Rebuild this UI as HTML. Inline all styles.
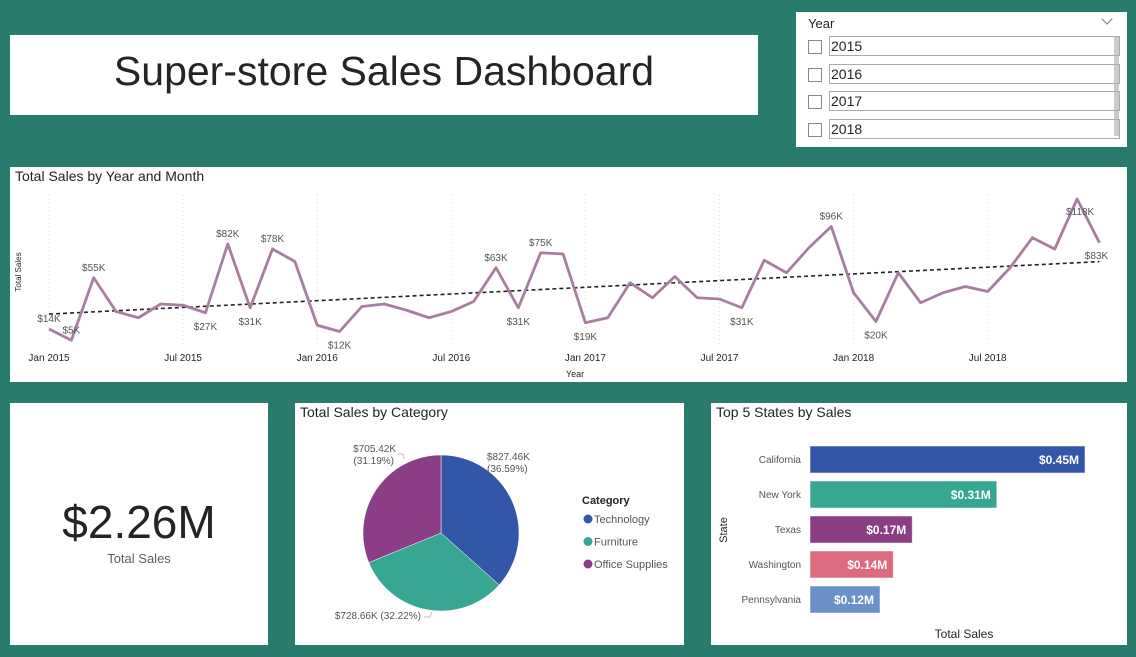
<!DOCTYPE html>
<html><head><meta charset="utf-8">
<style>
body{margin:0;width:1136px;height:657px;background:#287b6d;font-family:"Liberation Sans",sans-serif;position:relative;overflow:hidden}
.p{position:absolute;background:#fff}
.t{position:absolute;font-size:14px;color:#252423}
svg text{font-family:"Liberation Sans",sans-serif}
</style></head><body>
<div class="p" style="left:10px;top:35px;width:748px;height:80px">
 <div style="position:absolute;left:0;right:0;top:13px;text-align:center;font-size:41px;color:#252423">Super-store Sales Dashboard</div>
</div>
<div class="p" style="left:796px;top:12px;width:331px;height:135px">
 <div style="position:absolute;left:12px;top:4px;font-size:13px;color:#252423">Year</div>
 <div style="position:absolute;right:16px;top:3px;width:7px;height:7px;border-right:1px solid #777;border-bottom:1px solid #777;transform:rotate(45deg)"></div>
 <div style="position:absolute;left:318px;top:24px;width:5px;height:100px;background:#ccc"></div>
 <div id="slicerItems"></div>
</div>
<div class="p" style="left:10px;top:167px;width:1117px;height:215px">
 <div class="t" style="left:5px;top:1px">Total Sales by Year and Month</div>
</div>
<svg id="lineSvg" width="1136" height="657" style="position:absolute;left:0;top:0;pointer-events:none"></svg>
<div class="p" style="left:10px;top:403px;width:258px;height:242px">
 <div style="position:absolute;left:0;right:0;top:92px;text-align:center;font-size:46px;color:#252423">$2.26M</div>
 <div style="position:absolute;left:0;right:0;top:148px;text-align:center;font-size:13px;color:#605e5c">Total Sales</div>
</div>
<div class="p" style="left:295px;top:403px;width:389px;height:242px">
 <div class="t" style="left:5px;top:1px">Total Sales by Category</div>
</div>
<div class="p" style="left:711px;top:403px;width:416px;height:242px">
 <div class="t" style="left:5px;top:1px">Top 5 States by Sales</div>
</div>
<svg id="chartSvg" width="1136" height="657" style="position:absolute;left:0;top:0"></svg>
<script>
const months=["Jan","Feb","Mar","Apr","May","Jun","Jul","Aug","Sep","Oct","Nov","Dec"];
const years=[2015,2016,2017,2018];
const salesK=[14,5,55,28,23,34,33,27,82,31,78,68,
 17,12,32,34,29,23,28,36,63,31,75,74,
 19,23,51,39,56,39,38,31,69,59,79,96,
 43,20,59,35,43,48,44,63,87,78,118,83];
const labeledIdx=[0,1,2,7,8,9,10,13,20,21,22,24,31,35,37,46,47];
const labelBelowIdx=[7,9,13,21,24,31,37,46,47];
const xTickIdx=[0,6,12,18,24,30,36,42];
const categories=["Technology","Furniture","Office Supplies"];
const catValues=[827.46,728.66,705.42];
const catColors=["#3357a8","#37a794","#8b3e86"];
const states=["California","New York","Texas","Washington","Pennsylvania"];
const stateValues=[457.7,310.9,170.2,138.6,116.5];
const stateLabels=["$0.45M","$0.31M","$0.17M","$0.14M","$0.12M"];
const stateColors=["#3357a8","#37a794","#8b3e86","#dd6b7f","#6b91c9"];

const NS="http://www.w3.org/2000/svg";
function mk(p,tag,at,txt){const e=document.createElementNS(NS,tag);for(const k in at)e.setAttribute(k,at[k]);if(txt!==undefined)e.textContent=txt;p.appendChild(e);return e;}

const si=document.getElementById('slicerItems');
years.forEach((y,i)=>{
 const top=24+i*27.5;
 const cb=document.createElement('div');
 
 
 cb.style.cssText=`position:absolute;left:12px;top:${top+4}px;width:12px;height:12px;border:1px solid #888`;
 si.appendChild(cb);
 const it=document.createElement('div');
 
 
 it.style.cssText=`position:absolute;left:33px;top:${top}px;width:288px;height:18px;border:1px solid #aaa;font-size:14px;color:#252423;padding-left:1px;line-height:18px`;
 it.textContent=y;
 si.appendChild(it);
});

const L=document.getElementById('lineSvg');
const x0=49,dx=22.35,yZero=346.5,ky=1.25;
const X=i=>x0+i*dx, Y=v=>yZero-v*ky;
xTickIdx.forEach(i=>{
 const g=mk(L,'line',{x1:X(i),x2:X(i),y1:195,y2:347,stroke:'#ddd','stroke-dasharray':'1,3'});
 
 
 const t=mk(L,'text',{x:X(i),y:361,'font-size':10,'text-anchor':'middle',fill:'#252423'},months[i%12]+' '+years[Math.floor(i/12)]);
 
 
});
const yt=mk(L,'text',{x:0,y:0,'font-size':8,'text-anchor':'middle',fill:'#252423',transform:'translate(21,272) rotate(-90)'},'Total Sales');


const xt=mk(L,'text',{x:575,y:377,'font-size':9,'text-anchor':'middle',fill:'#252423'},'Year');


const n=salesK.length;let sx=0,sy=0,sxy=0,sxx=0;
salesK.forEach((v,i)=>{sx+=i;sy+=v;sxy+=i*v;sxx+=i*i;});
const b=(n*sxy-sx*sy)/(n*sxx-sx*sx),a=(sy-b*sx)/n;
const tr=mk(L,'line',{x1:X(0),y1:Y(a),x2:X(n-1),y2:Y(a+b*(n-1)),stroke:'#222','stroke-width':1.6,'stroke-dasharray':'4,3'});


const ln=mk(L,'polyline',{points:salesK.map((v,i)=>X(i)+','+Y(v)).join(' '),fill:'none',stroke:'#a67e9e','stroke-width':2.8,'stroke-linejoin':'round'});


labeledIdx.forEach(i=>{
 const v=salesK[i];
 const below=labelBelowIdx.includes(i);
 let lx=X(i); if(i===47) lx+=-3; if(i===46) lx+=3;
 const t=mk(L,'text',{x:lx,y:below?(i>=46?Y(v)+16:Y(v)+17):Y(v)-7,'font-size':10,'text-anchor':'middle',fill:'#555'},'$'+v+'K');
 
 
});

const S=document.getElementById('chartSvg');
const cx=441,cy=533,r=78;
const tot=catValues.reduce((s,v)=>s+v,0);
let ang=0;
const lblPos=[[487,460,'start'],[421,619,'end'],[396,452,'end']];
catValues.forEach((v,i)=>{
 const a0=ang,a1=ang+v/tot*2*Math.PI;ang=a1;
 const p=(a)=>[cx+r*Math.sin(a),cy-r*Math.cos(a)];
 const [xa,ya]=p(a0),[xb,yb]=p(a1);
 const s=mk(S,'path',{d:`M${cx},${cy}L${xa},${ya}A${r},${r} 0 ${a1-a0>Math.PI?1:0} 1 ${xb},${yb}Z`,fill:catColors[i],stroke:'#fff','stroke-width':0.5});
 
 
 const pct=(v/tot*100).toFixed(2);
 const [lx,ly,anc]=lblPos[i];
 const g=mk(S,'text',{x:lx,y:ly,'font-size':10,fill:'#555','text-anchor':anc});
 
 
 if(i===1){g.textContent='$'+v.toFixed(2)+'K ('+pct+'%)';}
 else{mk(g,'tspan',{x:lx},'$'+v.toFixed(2)+'K');mk(g,'tspan',{x:lx+(i===2?-2:0),dy:12},'('+pct+'%)');}
});
mk(S,'polyline',{points:'486,458 490,458 488,462',fill:'none',stroke:'#bbb'});
mk(S,'polyline',{points:'424,617 430,617 432,612',fill:'none',stroke:'#bbb'});
mk(S,'polyline',{points:'398,454 403,454 404,459',fill:'none',stroke:'#bbb'});
const lt=mk(S,'text',{x:582,y:504,'font-size':11,'font-weight':'bold',fill:'#252423'},'Category');


categories.forEach((c,i)=>{
 const yy=519+i*22.5;
 const d=mk(S,'circle',{cx:588,cy:yy,r:4.5,fill:catColors[i]});
 
 
 const t=mk(S,'text',{x:594,y:yy+4,'font-size':11,fill:'#555'},c);
 
 
});

const bx=810,kx=275/457.7;
states.forEach((s,i)=>{
 const y=446+i*35;
 const w=stateValues[i]*kx;
 const r1=mk(S,'rect',{x:bx,y:y,width:w,height:27,fill:stateColors[i],stroke:'#fff','stroke-opacity':0.5});
 
 
 const t=mk(S,'text',{x:bx+w-6,y:y+18,'font-size':12,'font-weight':'bold',fill:'#fff','text-anchor':'end'},stateLabels[i]);
 
 
 const c=mk(S,'text',{x:801,y:y+17,'font-size':10,fill:'#555','text-anchor':'end'},s);
 
 
});
const st=mk(S,'text',{x:0,y:0,'font-size':11,fill:'#252423','text-anchor':'middle',transform:'translate(727,530) rotate(-90)'},'State');


const ts=mk(S,'text',{x:964,y:638,'font-size':12,fill:'#252423','text-anchor':'middle'},'Total Sales');


</script>
</body></html>
